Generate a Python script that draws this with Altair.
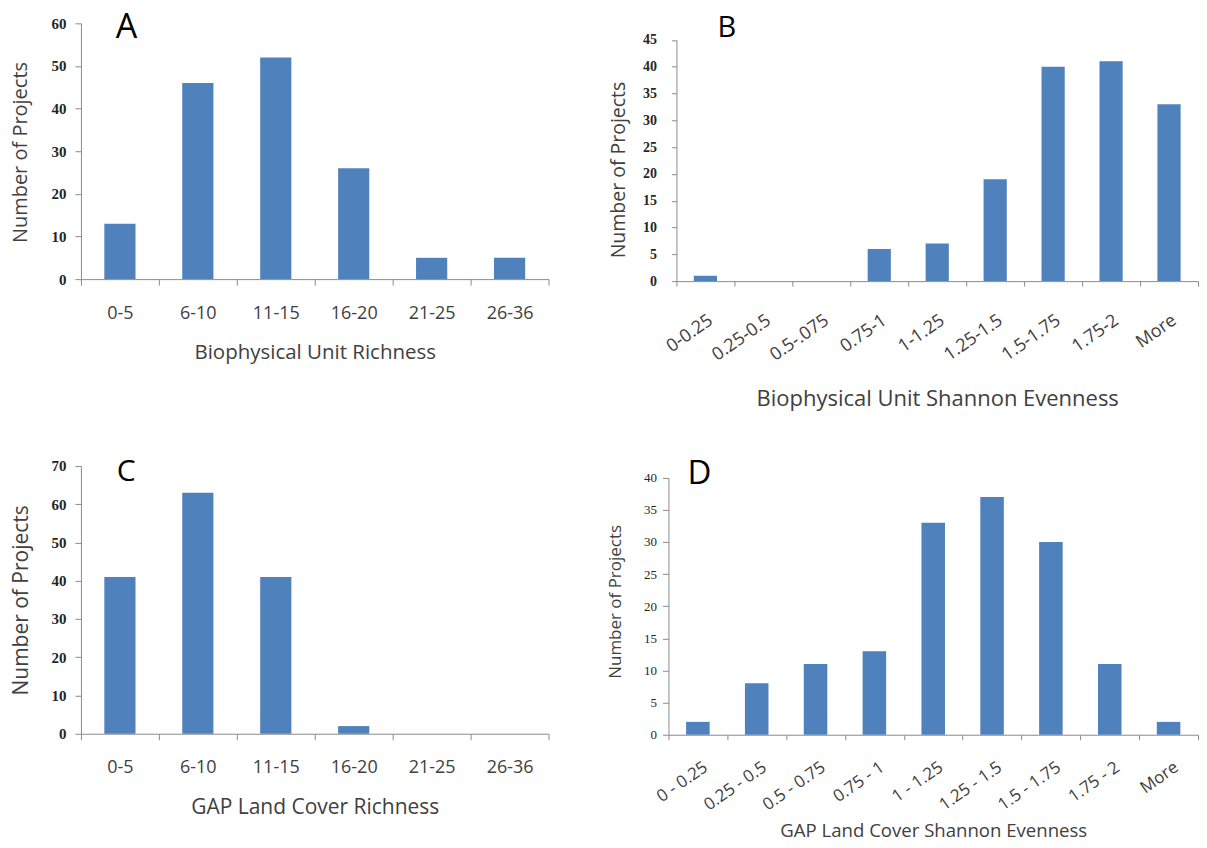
import altair as alt
import pandas as pd

# ---------------- data ----------------
a_cats = ["0-5", "6-10", "11-15", "16-20", "21-25", "26-36"]
a_vals = [13, 46, 52, 26, 5, 5]
a_ticks = [0, 10, 20, 30, 40, 50, 60]

b_cats = ["0-0.25", "0.25-0.5", "0.5-.075", "0.75-1", "1-1.25", "1.25-1.5",
          "1.5-1.75", "1.75-2", "More"]
b_vals = [1, 0, 0, 6, 7, 19, 40, 41, 33]
b_ticks = [0, 5, 10, 15, 20, 25, 30, 35, 40, 45]

c_cats = ["0-5", "6-10", "11-15", "16-20", "21-25", "26-36"]
c_vals = [41, 63, 41, 2, 0, 0]
c_ticks = [0, 10, 20, 30, 40, 50, 60, 70]

d_cats = ["0 - 0.25", "0.25 - 0.5", "0.5 - 0.75", "0.75 - 1", "1 - 1.25",
          "1.25 - 1.5", "1.5 - 1.75", "1.75 - 2", "More"]
d_vals = [2, 8, 11, 13, 33, 37, 30, 11, 2]
d_ticks = [0, 5, 10, 15, 20, 25, 30, 35, 40]

BLUE = "#4F81BD"
GREY = "#8C8C8C"
TXT = "#404040"
SANS = "Open Sans"
SERIF = "Liberation Serif"


def panel(cats, vals, ticks, letter, xtitle, w, h, ytop, ext, letter_pos,
          letter_size, xkw, ykw):
    df = pd.DataFrame({"cat": cats, "n": vals})
    bars = alt.Chart(df).mark_bar(color=BLUE, width={"band": 0.4}).encode(
        x=alt.X("cat:N", sort=cats, title=xtitle,
                scale=alt.Scale(paddingInner=0, paddingOuter=0),
                axis=alt.Axis(tickBand="extent", grid=False, labelOverlap=False,
                              domainColor=GREY, tickColor=GREY,
                              labelFont=SANS, labelColor=TXT,
                              titleFont=SANS, titleColor=TXT,
                              titleFontWeight="normal", titleBaseline="middle",
                              **xkw)),
        y=alt.Y("n:Q", title="Number of Projects",
                scale=alt.Scale(domain=[ticks[0], ticks[-1]], nice=False,
                                range=[h, ytop]),
                axis=alt.Axis(values=ticks, grid=False,
                              domainColor=GREY, tickColor=GREY,
                              labelFont=SERIF, labelColor="#262626",
                              titleFont=SANS, titleColor=TXT,
                              titleFontWeight="normal", titleBaseline="middle",
                              **ykw)),
    )
    one = pd.DataFrame({"t": [letter]})
    lab = alt.Chart(one).mark_text(
        font=SANS, fontSize=letter_size, color="black", align="center",
        baseline="alphabetic"
    ).encode(text="t:N", x=alt.value(letter_pos[0]), y=alt.value(letter_pos[1]))
    left, top, right, bottom = ext
    box = alt.Chart(one).mark_rule(opacity=0, strokeOpacity=0).encode(
        x=alt.value(-left), x2=alt.value(w + right),
        y=alt.value(-top), y2=alt.value(bottom))
    return alt.layer(bars, lab, box).properties(width=w, height=h)


A = panel(a_cats, a_vals, a_ticks, "A", "Biophysical Unit Richness", 468, 256, 0,
          (73, 14.7, 20, 397.3), (45.5, 14.3), 34,
          dict(labelAngle=0, labelFontSize=18, labelBaseline="middle",
               labelPadding=28, tickSize=6, titleFontSize=20.5, titleY=73),
          dict(labelFontWeight="bold", labelFontSize=15, labelPadding=9,
               tickSize=6, titleFontSize=20, titleX=-60.5, titleY=128.8))

B = panel(b_cats, b_vals, b_ticks, "B", "Biophysical Unit Shannon Evenness", 522, 258, 16.6,
          (73, 14.7, 0, 397.3), (50.5, 14), 29,
          dict(labelAngle=-35, labelAlign="right", labelBaseline="top",
               labelFontSize=18, labelPadding=25, tickSize=5,
               titleFontSize=22, titleY=117),
          dict(labelFontWeight="bold", labelFontSize=14, labelPadding=15,
               tickSize=5, titleFontSize=19.5, titleX=-57.5, titleY=146.3))

C = panel(c_cats, c_vals, c_ticks, "C", "GAP Land Cover Richness", 468, 268, 0,
          (73, 45, 20, 375), (45.4, 15), 30,
          dict(labelAngle=0, labelFontSize=18, labelBaseline="middle",
               labelPadding=28, tickSize=6, titleFontSize=21, titleY=74),
          dict(labelFontWeight="bold", labelFontSize=15, labelPadding=9,
               tickSize=6, titleFontSize=21, titleX=-59, titleY=134))

D = panel(d_cats, d_vals, d_ticks, "D", "GAP Land Cover Shannon Evenness", 530, 269, 11.7,
          (65, 45, 0, 375), (31, 18), 33,
          dict(labelAngle=-35, labelAlign="right", labelBaseline="top",
               labelFontSize=17, labelPadding=19, labelOffset=3, tickSize=5,
               titleFontSize=18.6, titleY=96),
          dict(labelFontWeight="normal", labelFontSize=13, labelPadding=6,
               tickSize=6, titleFontSize=17, titleX=-52.5, titleY=135.5))

row1 = alt.hconcat(A, B, spacing=35)
row2 = alt.hconcat(C, D, spacing=35)
chart = alt.vconcat(row1, row2, spacing=0).properties(
    padding={"left": 0, "top": 0, "right": 0, "bottom": 0}
).configure_view(stroke=None)

chart.save("out.html", embed_options={"renderer": "svg", "actions": False})
